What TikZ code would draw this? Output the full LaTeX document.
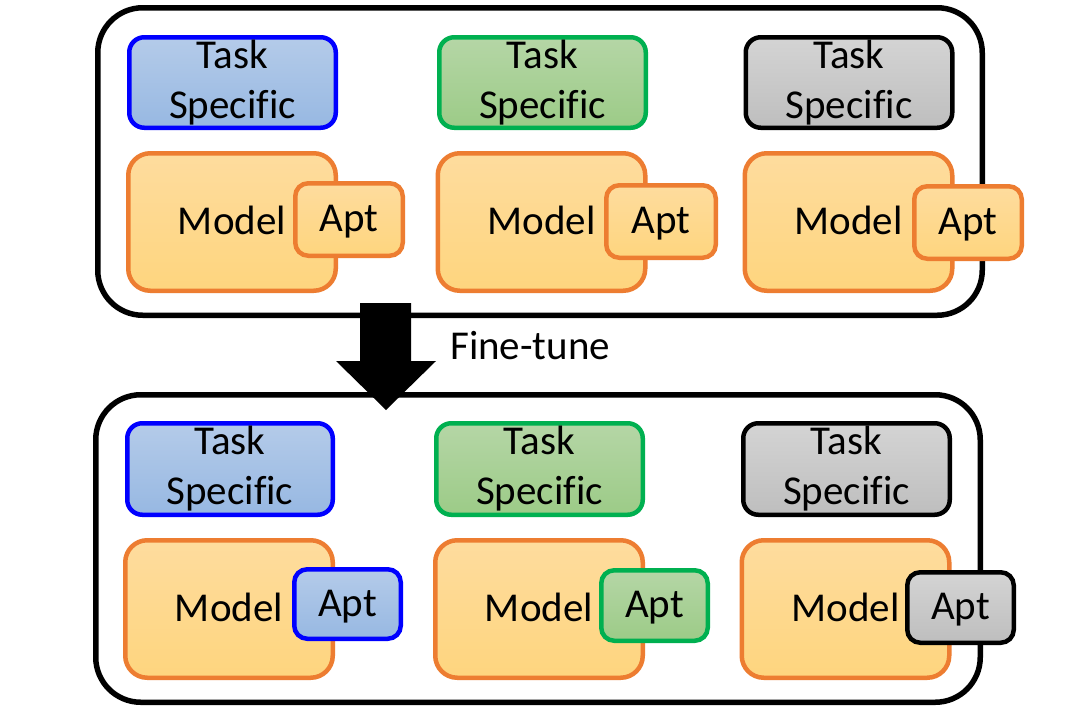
\documentclass[tikz,border=0pt]{standalone}
\usepackage{fontspec}
\setmainfont[Ligatures=NoCommon]{Carlito}
\definecolor{bluetop}{HTML}{B4CBE9}
\definecolor{bluebot}{HTML}{97B8E2}
\definecolor{blueline}{HTML}{0000FF}
\definecolor{greentop}{HTML}{B5D6A6}
\definecolor{greenbot}{HTML}{9CCB87}
\definecolor{greenline}{HTML}{00B050}
\definecolor{graytop}{HTML}{D4D4D4}
\definecolor{graybot}{HTML}{BEBEBE}
\definecolor{orangetop}{HTML}{FEDC9E}
\definecolor{orangebot}{HTML}{FED57E}
\definecolor{orangeline}{HTML}{ED7D31}
\tikzset{
  txt/.style={font=\fontsize{41}{50}\selectfont, text=black},
  outerbox/.style={draw=black, line width=5.5pt, rounded corners=45pt, minimum width=884.5pt, minimum height=307.5pt, fill=white},
  taskbox/.style={txt, rectangle, rounded corners=15pt, line width=4.5pt, minimum width=206.5pt, minimum height=90.5pt, align=center, inner sep=0pt},
  modelbox/.style={txt, rectangle, rounded corners=22pt, line width=4.5pt, draw=orangeline, top color=orangetop, bottom color=orangebot, minimum width=207.5pt, minimum height=137.5pt, inner sep=0pt, text height=24pt, text depth=0pt},
  aptbox/.style={txt, rectangle, rounded corners=13pt, line width=4.5pt, minimum width=107.5pt, minimum height=72.5pt, inner sep=0pt, text height=24pt, text depth=0pt},
  bluef/.style={draw=blueline, top color=bluetop, bottom color=bluebot},
  greenf/.style={draw=greenline, top color=greentop, bottom color=greenbot},
  grayf/.style={draw=black, top color=graytop, bottom color=graybot},
  orangef/.style={draw=orangeline, top color=orangetop, bottom color=orangebot},
}
\begin{document}
\begin{tikzpicture}[x=1pt, y=-1pt]
\useasboundingbox (0,0) rectangle (1069,710);
% outer boxes
\node[outerbox] (top) at (540,161.5) {};
\node[outerbox] (bot) at (538,548.5) {};
% top row
\node[taskbox, bluef] (t1) at (232.5,82.5) {Task\\Specific};
\node[modelbox] (m1) at (232,222) {Model};
\node[aptbox, orangef] (a1) at (349,219.5) {Apt};
\node[taskbox, greenf] (t2) at (542.5,82.5) {Task\\Specific};
\node[modelbox] (m2) at (541.5,222) {Model};
\node[aptbox, orangef, minimum width=109.5pt] (a2) at (661,221.5) {Apt};
\node[taskbox, grayf] (t3) at (849,82.5) {Task\\Specific};
\node[modelbox] (m3) at (848.5,222) {Model};
\node[aptbox, orangef] (a3) at (968,222.5) {Apt};
% bottom row
\node[taskbox, bluef, minimum height=91.5pt, minimum width=205.5pt] (t1b) at (230,469) {Task\\Specific};
\node[modelbox] (m1b) at (229,609) {Model};
\node[aptbox, bluef, minimum width=106.5pt, minimum height=69.5pt] (a1b) at (347.5,604) {Apt};
\node[taskbox, greenf, minimum height=91.5pt] (t2b) at (539.5,469) {Task\\Specific};
\node[modelbox] (m2b) at (539,609) {Model};
\node[aptbox, greenf, minimum width=106.5pt, minimum height=70.5pt] (a2b) at (654.5,605.5) {Apt};
\node[taskbox, grayf, minimum height=91.5pt] (t3b) at (846.5,469) {Task\\Specific};
\node[modelbox] (m3b) at (845.5,609) {Model};
\node[aptbox, grayf, minimum width=106.5pt, minimum height=70.5pt] (a3b) at (960.5,607.5) {Apt};
% fine-tune arrow
\fill[black] (360,303) -- (411,303) -- (411,361) -- (436,361) -- (386,410) -- (336,361) -- (360,361) -- cycle;
\node[txt, anchor=west, inner sep=0pt] (ft) at (450,346) {Fine-tune};
\end{tikzpicture}
\end{document}
